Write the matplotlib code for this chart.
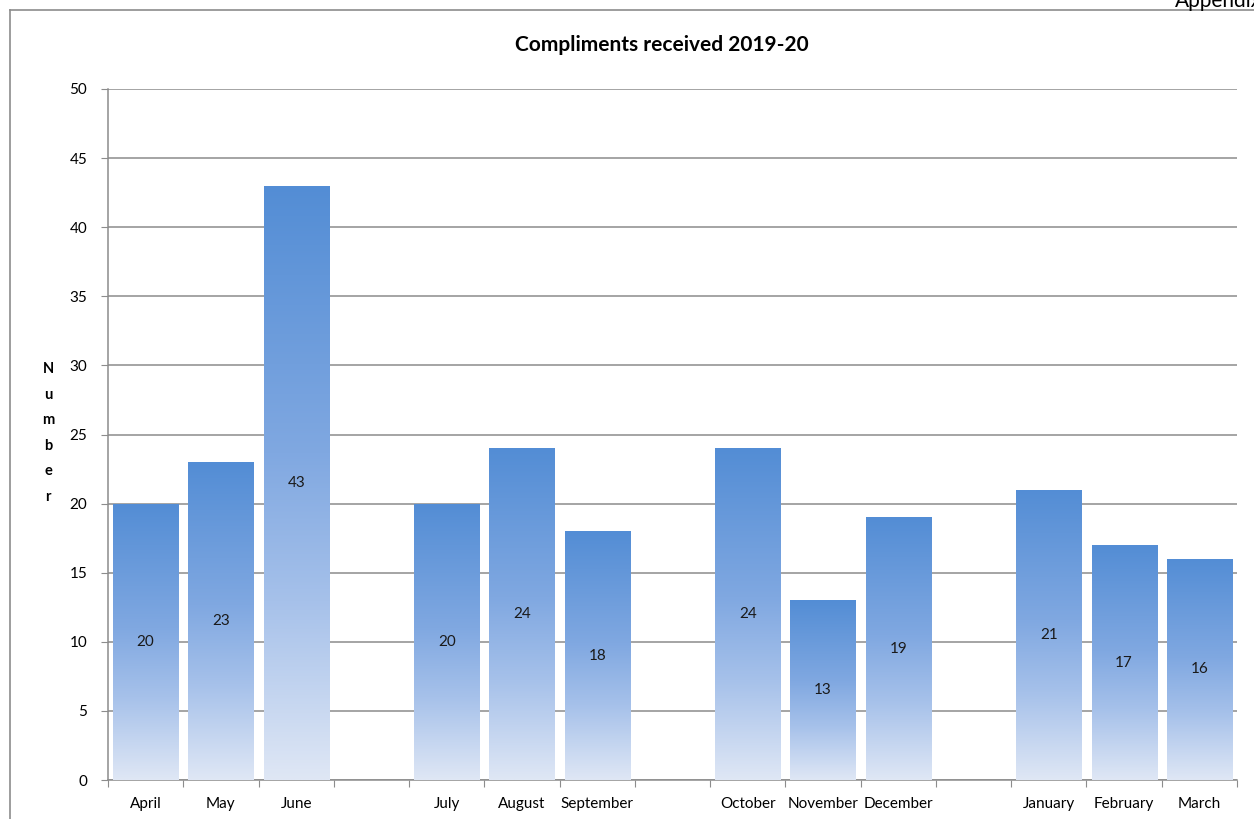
import matplotlib
matplotlib.use("Agg")
import matplotlib.pyplot as plt
import numpy as np
from matplotlib.colors import LinearSegmentedColormap
from matplotlib.lines import Line2D

# Monthly compliment counts, grouped by quarter (blank slot between quarters)
months = ["April", "May", "June", "July", "August", "September",
          "October", "November", "December", "January", "February", "March"]
values = [20, 23, 43, 20, 24, 18, 24, 13, 19, 21, 17, 16]
y_ticks = [0, 5, 10, 15, 20, 25, 30, 35, 40, 45, 50]
title = "Compliments received 2019-20"
y_label = "Number"

plt.rcParams["font.family"] = ["Lato", "DejaVu Sans"]

fig = plt.figure(figsize=(12.54, 8.19), dpi=100)
W, H = 1254, 819

ax = fig.add_axes([108 / W, 1 - 780 / H, (1237 - 108) / W, (780 - 89) / H])

# Slot positions: three months then one empty slot
positions = []
slot = 0
for i in range(len(months)):
    positions.append(slot + 0.5)
    slot += 1
    if i % 3 == 2:
        slot += 1
n_slots = 15

cmap = LinearSegmentedColormap.from_list(
    "barfade", [(0.0, "#dfe7f5"), (0.3, "#a6c1ea"), (0.55, "#80a8e1"), (1.0, "#538dd5")])
grad = np.linspace(0, 1, 256).reshape(-1, 1)

width = 0.865
bars = ax.bar(positions, values, width=width, color="none", edgecolor="none", zorder=3)
for bar, v in zip(bars, values):
    x0 = bar.get_x()
    im = ax.imshow(grad, cmap=cmap, origin="lower", aspect="auto",
                   extent=(x0, x0 + width, 0, v), zorder=3, interpolation="bilinear")
    im.set_clip_path(bar)
    ax.text(bar.get_x() + width / 2, v / 2, str(v), ha="center", va="center",
            fontsize=11, color="#1a1a1a", zorder=4)

ax.set_xlim(0, n_slots)
ax.set_ylim(0, 50)
ax.set_yticks(y_ticks)
ax.set_yticklabels([str(t) for t in y_ticks], fontsize=11)
ax.yaxis.grid(True, color="#8c8c8c", linewidth=1.1, zorder=0)
ax.set_axisbelow(True)

ax.set_xticks(np.arange(0, n_slots + 1))
ax.set_xticklabels([])
ax.set_xticks(positions, minor=True)
ax.set_xticklabels(months, minor=True, fontsize=11)
ax.tick_params(axis="x", which="minor", length=0, pad=12)
ax.tick_params(axis="x", which="major", length=5, color="#8c8c8c", direction="out")
ax.tick_params(axis="y", length=5, color="#8c8c8c", pad=10)

for side in ["top", "right"]:
    ax.spines[side].set_visible(False)
for side in ["left", "bottom"]:
    ax.spines[side].set_color("#8c8c8c")
    ax.spines[side].set_linewidth(1.1)

fig.text(662 / W, 1 - 45 / H, title, ha="center", va="center",
         fontsize=15, fontweight="bold", color="black")
fig.text(48 / W, 1 - 433 / H, "\n".join(y_label), ha="center", va="center",
         fontsize=10.5, fontweight="bold", linespacing=2.05)

# Outer chart frame
fig.add_artist(Line2D([9.5 / W, 9.5 / W], [0, 1 - 10 / H], transform=fig.transFigure,
                      color="#8c8c8c", linewidth=1.2))
fig.add_artist(Line2D([9.5 / W, 1], [1 - 10 / H, 1 - 10 / H], transform=fig.transFigure,
                      color="#8c8c8c", linewidth=1.2))
fig.text(1175 / W, 1 - 7 / H, "Appendix", ha="left", va="baseline",
         fontsize=15, color="black")

fig.savefig("out.png", dpi=100)
